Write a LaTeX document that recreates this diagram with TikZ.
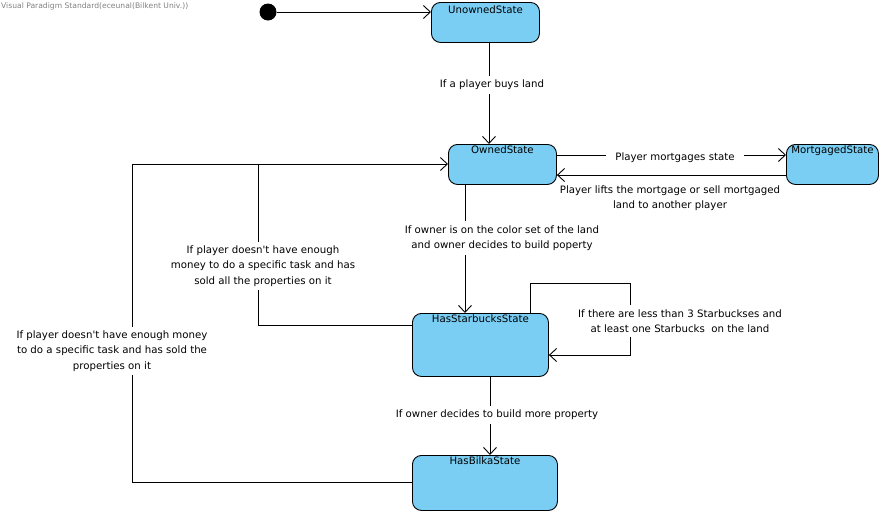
\documentclass[tikz,border=0pt]{standalone}
\usepackage{fontspec}
\setmainfont{DejaVu Sans}
\usetikzlibrary{arrows.meta}
\definecolor{stfill}{RGB}{122,206,244}
\tikzset{
  statebox/.style={draw, fill=stfill, rounded corners=9pt, line width=0.9pt, anchor=north west, inner sep=0pt},
  sttitle/.style={anchor=north, font=\fontsize{10.2}{12}\selectfont, inner sep=0pt},
  edge/.style={line width=0.9pt, -{Straight Barb[length=7pt,width=13pt,line width=0.9pt]}},
  plain/.style={line width=0.9pt},
  lbl/.style={fill=white, align=center, inner sep=2pt, font=\fontsize{10.2}{15.5}\selectfont},
}
\begin{document}
\begin{tikzpicture}[x=1pt,y=-1pt]
\useasboundingbox (0,0) rectangle (884,512);
\node[anchor=north west, text=gray, font=\fontsize{7.6}{8}\selectfont, inner sep=0pt] (wm) at (1,3) {Visual Paradigm Standard(eceunal(Bilkent Univ.))};

\node[circle, fill=black, minimum size=17pt, inner sep=0pt] (init) at (268,12) {};
\node[statebox, minimum width=108pt, minimum height=40pt] (un) at (431,2) {};
\node[sttitle] (unt) at ([yshift=-4pt]un.north) {UnownedState};
\node[statebox, minimum width=108pt, minimum height=40pt] (ow) at (448,144) {};
\node[sttitle] (owt) at ([yshift=-2pt]ow.north) {OwnedState};
\node[statebox, minimum width=92pt, minimum height=40pt] (mo) at (786,144) {};
\node[sttitle] (mot) at ([yshift=-2pt]mo.north) {MortgagedState};
\node[statebox, minimum width=136pt, minimum height=63pt] (hs) at (412,313) {};
\node[sttitle] (hst) at ([yshift=-2pt]hs.north) {HasStarbucksState};
\node[statebox, minimum width=145pt, minimum height=55pt] (hb) at (412,455) {};
\node[sttitle] (hbt) at ([yshift=-2pt]hb.north) {HasBilkaState};

% initial
\draw[edge] (init) -- (un.west |- init);
% unowned -> owned
\draw[edge] (un.south -| 489,0) -- (ow.north -| 489,0);
\node[lbl, inner ysep=4pt] (l1) at (492,85) {If a player buys land};
% owned -> mortgaged
\draw[edge] (ow.east |- 0,155) -- (mo.west |- 0,155);
\node[lbl, inner xsep=9pt] (l2) at (675,158) {Player mortgages state};
% mortgaged -> owned
\draw[edge] (mo.west |- 0,175) -- (ow.east |- 0,175);
\node[lbl, fill=none] (l3) at (670,198) {Player lifts the mortgage or sell mortgaged\\land to another player};
% owned -> hasstarbucks
\draw[edge] (ow.south -| 465,0) -- (hs.north -| 465,0);
\node[lbl, inner ysep=4pt] (l4) at (502,238) {If owner is on the color set of the land\\and owner decides to build poperty};
% self loop
\coordinate (s1) at (530,283);
\coordinate (s2) at (630,283);
\coordinate (s3) at (630,355);
\draw[edge] (hs.north -| s1) -- (s1) -- (s2) -- (s3) -- (hs.east |- s3);
\node[lbl, inner ysep=4pt] (l5) at (680,321) {If there are less than 3 Starbuckses and\\at least one Starbucks\ \ on the land};
% hasstarbucks -> hasbilka
\draw[edge] (hs.south -| 490,0) -- (hb.north -| 490,0);
\node[lbl, inner ysep=4pt] (l6) at (497,415) {If owner decides to build more property};
% hasstarbucks -> owned
\coordinate (a1) at (258,325);
\coordinate (a2) at (258,164);
\draw[edge] (hs.west |- a1) -- (a1) -- (a2) -- (ow.west |- a2);
\node[lbl, inner ysep=4pt] (l7) at (263,266) {If player doesn\textquotesingle t have enough\\money to do a specific task and has\\sold all the properties on it};
% hasbilka -> owned
\coordinate (b1) at (132,482);
\coordinate (b2) at (132,164);
\draw[plain] (hb.west |- b1) -- (b1) -- (b2) -- (a2);
\node[lbl, inner ysep=4pt] (l8) at (112,351) {If player doesn\textquotesingle t have enough money\\to do a specific task and has sold the\\properties on it};
\end{tikzpicture}
\end{document}
